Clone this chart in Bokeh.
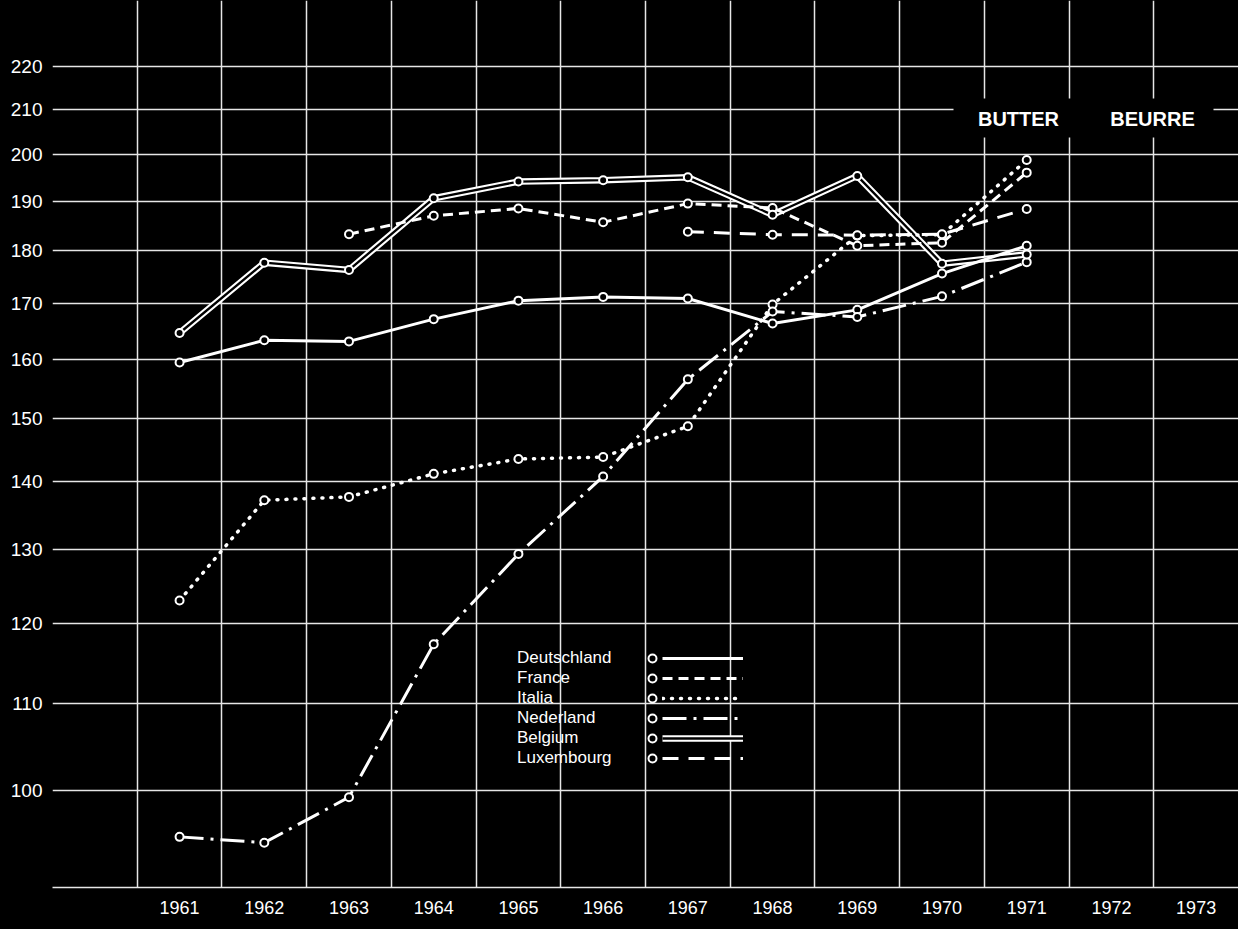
from bokeh.plotting import figure
from bokeh.models import (Range1d, FixedTicker, BasicTickFormatter, Legend, LegendItem,
                          Label, BoxAnnotation, GlobalInlineStyleSheet)
from bokeh.embed import file_html
from bokeh.resources import INLINE

# ---------------- data ----------------
years = [1961, 1962, 1963, 1964, 1965, 1966, 1967, 1968, 1969, 1970, 1971, 1972, 1973]
y_ticks = [100, 110, 120, 130, 140, 150, 160, 170, 180, 190, 200, 210, 220]

years_full = [1961, 1962, 1963, 1964, 1965, 1966, 1967, 1968, 1969, 1970, 1971]
years_france = [1963, 1964, 1965, 1966, 1967, 1968, 1969, 1970, 1971]
years_lux = [1967, 1968, 1969, 1970, 1971]

deutschland = [159.4, 163.3, 163.1, 167.1, 170.5, 171.2, 170.9, 166.3, 168.8, 175.6, 181.0]
france = [183.3, 187.0, 188.5, 185.7, 189.5, 188.6, 181.0, 181.6, 196.0]
italia = [123.0, 137.2, 137.7, 141.2, 143.5, 143.8, 148.7, 169.8, 183.0, 183.2, 198.7]
nederland = [95.1, 94.5, 99.3, 117.3, 129.4, 140.8, 156.5, 168.5, 167.5, 171.3, 177.8]
belgium = [164.6, 177.7, 176.3, 190.6, 194.1, 194.4, 195.0, 187.2, 195.3, 177.5, 179.3]
luxembourg = [183.8, 183.2, 183.1, 183.3, 188.4]

names = ["Deutschland", "France", "Italia", "Nederland", "Belgium", "Luxembourg"]
series_x = {"Deutschland": years_full, "France": years_france, "Italia": years_full,
            "Nederland": years_full, "Belgium": years_full, "Luxembourg": years_lux}
series_y = {"Deutschland": deutschland, "France": france, "Italia": italia,
            "Nederland": nederland, "Belgium": belgium, "Luxembourg": luxembourg}

# ---------------- styles ----------------
FONT = "Liberation Sans"
WHITE = "white"
line_styles = {
    "Deutschland": dict(line_dash="solid", line_width=3),
    "France": dict(line_dash="10 6", line_width=3),
    "Italia": dict(line_dash="1 8", line_width=3.5, line_cap="round"),
    "Nederland": dict(line_dash="24 7 3 7", line_width=3),
    "Luxembourg": dict(line_dash="16 10", line_width=3),
}

p = figure(width=1238, height=929,
           x_range=Range1d(1959.5, 1973.5), y_range=Range1d(90, 236.4),
           y_axis_type="log", output_backend="svg", toolbar_location=None,
           background_fill_color="black", border_fill_color="black",
           min_border_left=52, min_border_right=0, min_border_top=0, min_border_bottom=42)
p.outline_line_color = None
p.stylesheets = [GlobalInlineStyleSheet(css="html, body { background-color: #000; }")]

xax = p.xaxis[0]
yax = p.yaxis[0]
xax.ticker = FixedTicker(ticks=years)
xax.formatter = BasicTickFormatter(use_scientific=False)
yax.ticker = FixedTicker(ticks=y_ticks)
yax.formatter = BasicTickFormatter(use_scientific=False)
for ax in (xax, yax):
    ax.major_label_text_color = WHITE
    ax.major_label_text_font = FONT
    ax.major_tick_line_color = None
    ax.minor_tick_line_color = None
    ax.major_tick_out = 0
    ax.major_tick_in = 0
    ax.minor_tick_out = 0
    ax.minor_tick_in = 0
xax.major_label_text_font_size = "18px"
yax.major_label_text_font_size = "19px"
xax.major_label_standoff = 13
yax.major_label_standoff = 10
xax.axis_line_color = "#e6e6e6"
xax.axis_line_width = 1.5
yax.axis_line_color = None

p.xgrid.ticker = FixedTicker(ticks=[y - 0.5 for y in years] + [years[-1] + 0.5])
p.ygrid.ticker = FixedTicker(ticks=y_ticks)
for g in (p.xgrid[0], p.ygrid[0]):
    g.grid_line_color = "#e6e6e6"
    g.grid_line_width = 1.5

line_r = {}
marker_r = {}
# Belgium: double line (white wide line with black core) drawn first
b_outer = p.line(series_x["Belgium"], series_y["Belgium"], line_color=WHITE, line_width=6.5)
b_inner = p.line(series_x["Belgium"], series_y["Belgium"], line_color="black", line_width=2.3)
line_r["Belgium"] = [b_outer, b_inner]
for n in names:
    if n == "Belgium":
        continue
    r = p.line(series_x[n], series_y[n], line_color=WHITE, **line_styles[n])
    line_r[n] = [r]
for n in names:
    marker_r[n] = p.scatter(series_x[n], series_y[n], marker="circle", size=8,
                            fill_color="black", line_color=WHITE, line_width=2)

# ---------------- legend (label | marker | line sample) ----------------
common = dict(orientation="vertical", glyph_height=20, label_height=20, spacing=0,
              padding=0, margin=0, background_fill_alpha=0, border_line_color=None,
              label_text_color=WHITE, label_text_font=FONT, label_text_font_size="17px")
leg_text = Legend(items=[LegendItem(label=n, renderers=[]) for n in names],
                  location=(465, 119), glyph_width=0, label_standoff=0, **common)
leg_mark = Legend(items=[LegendItem(label=" ", renderers=[marker_r[n]]) for n in names],
                  location=(590, 119), glyph_width=20, label_standoff=0, **common)
leg_line = Legend(items=[LegendItem(label=" ", renderers=line_r[n]) for n in names],
                  location=(610, 119), glyph_width=81, label_standoff=0, **common)
p.add_layout(leg_text)
p.add_layout(leg_mark)
p.add_layout(leg_line)

# ---------------- title box ----------------
p.add_layout(BoxAnnotation(left=901, right=1161, bottom=750, top=789,
                           left_units="screen", right_units="screen",
                           top_units="screen", bottom_units="screen",
                           fill_color="black", fill_alpha=1, line_color=None))
for txt, xs in (("BUTTER", 966), ("BEURRE", 1100)):
    p.add_layout(Label(x=xs, y=769, x_units="screen", y_units="screen", text=txt,
                       text_align="center", text_baseline="middle", text_color=WHITE,
                       text_font=FONT, text_font_size="20px", text_font_style="bold"))

open("out.html", "w").write(file_html(p, INLINE))
